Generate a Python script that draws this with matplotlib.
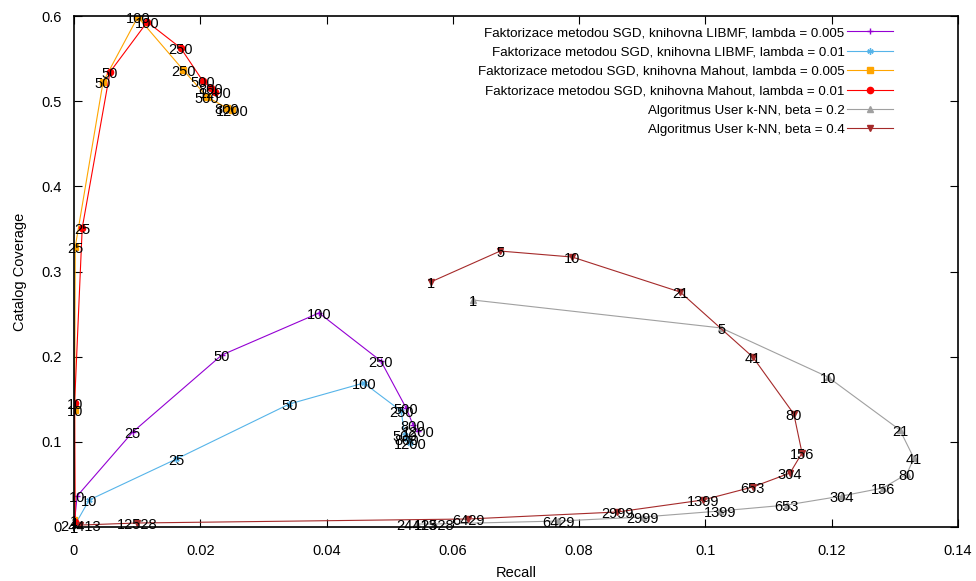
import matplotlib
matplotlib.use('Agg')
import matplotlib.pyplot as plt
import matplotlib.transforms as mtransforms

plt.rcParams['font.family'] = ['Liberation Sans', 'DejaVu Sans']
plt.rcParams['font.size'] = 10.5

# Matrix factorization: labels = number of latent factors
mf_labels = ['1', '10', '25', '50', '100', '250', '500', '800', '1200']

libmf_005_recall = [0.0, 0.0005, 0.0093, 0.0234, 0.0388, 0.0486, 0.0526, 0.0537, 0.0545]
libmf_005_cov = [0.0005, 0.0364, 0.1115, 0.2019, 0.2513, 0.1949, 0.1397, 0.1198, 0.1127]

libmf_01_recall = [0.0, 0.0024, 0.0162, 0.0341, 0.0459, 0.0518, 0.0524, 0.0527, 0.0532]
libmf_01_cov = [0.0005, 0.0317, 0.0798, 0.1444, 0.1691, 0.1362, 0.1080, 0.1033, 0.0986]

mahout_005_recall = [0.0, 0.0001, 0.0002, 0.0046, 0.0101, 0.0173, 0.0211, 0.0242, 0.0250]
mahout_005_cov = [0.008, 0.137, 0.329, 0.5225, 0.5988, 0.5366, 0.5049, 0.4920, 0.4896]

mahout_01_recall = [0.0002, 0.0001, 0.0013, 0.0057, 0.0116, 0.0169, 0.0204, 0.0217, 0.0223]
mahout_01_cov = [0.006, 0.146, 0.351, 0.5342, 0.593, 0.5624, 0.5237, 0.5154, 0.5107]

# User k-NN: labels = number of neighbours
knn_labels = ['1', '5', '10', '21', '41', '80', '156', '304', '653', '1399',
              '2999', '6429', '12528', '24413']

knn_02_recall = [0.0632, 0.1025, 0.1194, 0.1308, 0.1330, 0.1319, 0.1281, 0.1216,
                 0.1129, 0.1023, 0.0901, 0.0767, 0.0570, 0.0543]
knn_02_cov = [0.2665, 0.2337, 0.1761, 0.1139, 0.0810, 0.0622, 0.0458, 0.0364,
              0.0258, 0.0188, 0.0117, 0.0070, 0.0035, 0.0035]

knn_04_recall = [0.0565, 0.0675, 0.0789, 0.0960, 0.1075, 0.1140, 0.1153, 0.1134,
                 0.1075, 0.0996, 0.0860, 0.0624, 0.0100, 0.0010]
knn_04_cov = [0.2877, 0.3240, 0.3170, 0.2759, 0.1996, 0.1327, 0.0869, 0.0634,
              0.0470, 0.0317, 0.0176, 0.0094, 0.0047, 0.0023]

series = [
    ('Faktorizace metodou SGD, knihovna LIBMF, lambda = 0.005', libmf_005_recall, libmf_005_cov, mf_labels, '#9400d3', '+'),
    ('Faktorizace metodou SGD, knihovna LIBMF, lambda = 0.01', libmf_01_recall, libmf_01_cov, mf_labels, '#56b4e9', (6, 2, 0)),
    ('Faktorizace metodou SGD, knihovna Mahout, lambda = 0.005', mahout_005_recall, mahout_005_cov, mf_labels, '#ffa500', 's'),
    ('Faktorizace metodou SGD, knihovna Mahout, lambda = 0.01', mahout_01_recall, mahout_01_cov, mf_labels, '#ff0000', 'o'),
    ('Algoritmus User k-NN, beta = 0.2', knn_02_recall, knn_02_cov, knn_labels, '#a0a0a0', '^'),
    ('Algoritmus User k-NN, beta = 0.4', knn_04_recall, knn_04_cov, knn_labels, '#a52a2a', 'v'),
]

fig = plt.figure(figsize=(9.76, 5.81), dpi=100)
ax = fig.add_axes([74 / 976, 54 / 581, 884 / 976, 511 / 581])

# labels sit a little below their points, like gnuplot's "with labels"
lab_tr = mtransforms.offset_copy(ax.transData, fig=fig, x=0, y=-2, units='dots')

for name, xs, ys, labs, color, marker in series:
    ax.plot(xs, ys, color=color, lw=0.8, marker=marker, ms=4.5, mew=1,
            label=name)
    for x, y, t in zip(xs, ys, labs):
        ax.text(x, y, t, ha='center', va='center', fontsize=10.5,
                transform=lab_tr)

ax.set_xlim(0, 0.14)
ax.set_ylim(0, 0.6)
ax.set_xticks([0, 0.02, 0.04, 0.06, 0.08, 0.1, 0.12, 0.14])
ax.set_xticklabels(['0', '0.02', '0.04', '0.06', '0.08', '0.1', '0.12', '0.14'])
ax.set_yticks([0, 0.1, 0.2, 0.3, 0.4, 0.5, 0.6])
ax.set_yticklabels(['0', '0.1', '0.2', '0.3', '0.4', '0.5', '0.6'])
ax.tick_params(axis='x', direction='in', top=True, length=6, width=0.8, pad=12)
ax.tick_params(axis='y', direction='in', right=True, length=6, width=0.8, pad=9)
for sp in ax.spines.values():
    sp.set_linewidth(1.2)

ax.set_xlabel('Recall', labelpad=6)
ax.set_ylabel('Catalog Coverage', labelpad=10)

leg = ax.legend(loc='upper right', bbox_to_anchor=(0.926, 0.979),
                frameon=False, markerfirst=False, borderpad=0,
                borderaxespad=0, labelspacing=0.53, handlelength=3.4,
                handletextpad=0.2, fontsize=9.6)

plt.savefig('out.png', dpi=100)
